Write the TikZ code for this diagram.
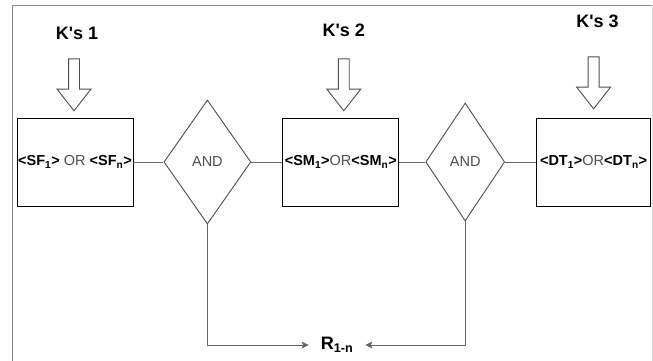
\documentclass[tikz,border=0pt]{standalone}
\usepackage{fontspec}
\setmainfont{Liberation Sans}
\usepackage{xcolor}
\usetikzlibrary{positioning}
\usetikzlibrary{shapes.geometric}
\usetikzlibrary{shapes.arrows}
\usetikzlibrary{arrows.meta}

\definecolor{linegray}{HTML}{666666}
\definecolor{framegray}{HTML}{8C8C8C}
\definecolor{textgray}{HTML}{4D4D4D}

\tikzset{
  condbox/.style={draw=black, line width=0.9pt, minimum width=116pt, minimum height=88pt,
    inner sep=0pt, font=\fontsize{14.5}{17}\selectfont},
  gate/.style={diamond, draw=textgray, line width=0.9pt, inner sep=0pt,
    font=\fontsize{14.5}{17}\selectfont, text=textgray},
  karrow/.style={single arrow, draw=textgray, line width=0.9pt, rotate=-90,
    minimum height=52pt, inner sep=5pt, single arrow head extend=11.5pt,
    single arrow tip angle=76, single arrow head indent=0pt},
  klabel/.style={font=\fontsize{18}{21}\bfseries\selectfont, inner sep=0pt},
  conn/.style={draw=linegray, line width=0.9pt},
}

\begin{document}
\begin{tikzpicture}[x=1pt, y=1pt]

  \useasboundingbox (0,0) rectangle (653,360);

  % Frame
  \draw[framegray, line width=0.9pt] (12,-10) -- (12,355) -- (660,355);
  \draw[framegray!30, line width=0.9pt] (652,355) -- (652,-10);

  % Define nodes
  \node[condbox] (box_sf) at (75,198)
    {{\bfseries<SF\textsubscript{1}>} \textcolor{textgray}{OR} {\bfseries<SF\textsubscript{n}>}};
  \node[gate, minimum width=87pt, minimum height=124pt, right=30pt of box_sf] (and_1) {AND};
  \node[condbox, right=31pt of and_1] (box_sm)
    {{\bfseries<SM\textsubscript{1}>}\textcolor{textgray}{OR}{\bfseries<SM\textsubscript{n}>}};
  \node[gate, minimum width=79pt, minimum height=118pt, right=26pt of box_sm] (and_2) {AND};
  \node[condbox, minimum width=114pt, right=31pt of and_2] (box_dt)
    {{\bfseries<DT\textsubscript{1}>}\textcolor{textgray}{OR}{\bfseries<DT\textsubscript{n}>}};

  \node[karrow, anchor=east] (arr_1) at ([xshift=-1pt, yshift=6pt]box_sf.north) {};
  \node[karrow, anchor=east] (arr_2) at ([xshift=3pt, yshift=6pt]box_sm.north) {};
  \node[karrow, anchor=east] (arr_3) at ([yshift=8pt]box_dt.north) {};

  \node[klabel, above=18pt of arr_1.west, xshift=3pt] (k_1) {K\textquotesingle s 1};
  \node[klabel, above=21pt of arr_2.west] (k_2) {K\textquotesingle s 2};
  \node[klabel, above=28pt of arr_3.west, xshift=4pt] (k_3) {K\textquotesingle s 3};

  \node[font=\fontsize{18}{21}\bfseries\selectfont, inner xsep=12pt, inner ysep=0pt]
    (res) at (337,15) {R\textsubscript{1-n}};

  % Connect nodes
  \draw[conn] (box_sf) -- (and_1);
  \draw[conn] (and_1) -- (box_sm);
  \draw[conn] (box_sm) -- (and_2);
  \draw[conn] (and_2) -- (box_dt);

  \draw[conn, -{Stealth[length=7pt, width=7pt, inset=1.5pt]}] (and_1.south) |- (res.west);
  \draw[conn, -{Stealth[length=7pt, width=7pt, inset=1.5pt]}] (and_2.south) |- (res.east);

\end{tikzpicture}
\end{document}
